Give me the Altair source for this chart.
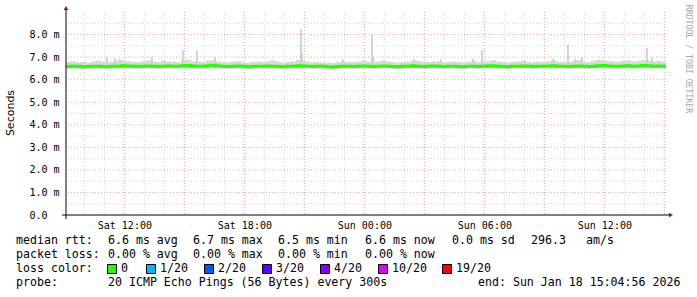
import altair as alt
import pandas as pd

# ---------------- data ----------------
START_H = 9 + 4 / 60 + 56 / 3600      # Sat 09:04:56, hours since Sat 00:00
END_H = START_H + 30                  # Sun 15:04:56
STEP_H = 0.25                         # one sample every 15 minutes

median_ms = [
    6.58, 6.60, 6.59, 6.57, 6.58, 6.60, 6.59, 6.58, 6.57, 6.59,
    6.60, 6.62, 6.61, 6.59, 6.58, 6.60, 6.61, 6.59, 6.58, 6.60,
    6.61, 6.60, 6.59, 6.62, 6.63, 6.61, 6.60, 6.59, 6.62, 6.64,
    6.61, 6.59, 6.58, 6.60, 6.61, 6.59, 6.57, 6.58, 6.60, 6.59,
    6.61, 6.60, 6.58, 6.57, 6.59, 6.60, 6.62, 6.61, 6.59, 6.58,
    6.60, 6.59, 6.57, 6.56, 6.58, 6.60, 6.59, 6.58, 6.60, 6.61,
    6.59, 6.58, 6.60, 6.61, 6.59, 6.58, 6.57, 6.59, 6.60, 6.62,
    6.60, 6.58, 6.59, 6.61, 6.60, 6.58, 6.59, 6.60, 6.58, 6.57,
    6.59, 6.60, 6.58, 6.59, 6.61, 6.62, 6.60, 6.58, 6.57, 6.59,
    6.60, 6.61, 6.59, 6.58, 6.60, 6.59, 6.61, 6.62, 6.60, 6.59,
    6.58, 6.60, 6.61, 6.59, 6.58, 6.60, 6.62, 6.63, 6.61, 6.60,
    6.59, 6.61, 6.62, 6.60, 6.61, 6.63, 6.62, 6.60, 6.61, 6.60,
]
smoke_lo_ms = [
    6.49, 6.50, 6.48, 6.47, 6.49, 6.50, 6.49, 6.48, 6.47, 6.49,
    6.50, 6.51, 6.50, 6.49, 6.48, 6.50, 6.51, 6.49, 6.48, 6.50,
    6.51, 6.50, 6.49, 6.51, 6.52, 6.51, 6.50, 6.49, 6.51, 6.52,
    6.50, 6.49, 6.48, 6.50, 6.51, 6.49, 6.47, 6.48, 6.50, 6.49,
    6.51, 6.50, 6.48, 6.47, 6.49, 6.50, 6.52, 6.51, 6.49, 6.48,
    6.50, 6.49, 6.47, 6.46, 6.48, 6.50, 6.49, 6.48, 6.50, 6.51,
    6.49, 6.48, 6.50, 6.51, 6.49, 6.48, 6.47, 6.49, 6.50, 6.52,
    6.50, 6.48, 6.49, 6.51, 6.50, 6.48, 6.49, 6.50, 6.48, 6.47,
    6.49, 6.50, 6.48, 6.49, 6.51, 6.52, 6.50, 6.48, 6.47, 6.49,
    6.50, 6.51, 6.49, 6.48, 6.50, 6.49, 6.51, 6.52, 6.50, 6.49,
    6.48, 6.50, 6.51, 6.49, 6.48, 6.50, 6.52, 6.53, 6.51, 6.50,
    6.49, 6.51, 6.52, 6.50, 6.51, 6.53, 6.52, 6.50, 6.51, 6.50,
]
smoke_hi_ms = [
    6.79, 6.82, 6.77, 6.78, 6.75, 6.80, 6.84, 6.79, 6.77, 6.81,
    6.84, 6.86, 6.82, 6.79, 6.77, 6.80, 6.85, 6.81, 6.78, 6.84,
    6.81, 6.79, 6.77, 6.86, 6.88, 6.82, 6.80, 6.78, 6.85, 6.86,
    6.81, 6.78, 6.76, 6.79, 6.82, 6.77, 6.75, 6.79, 6.81, 6.78,
    6.82, 6.85, 6.79, 6.76, 6.78, 6.80, 6.86, 6.83, 6.79, 6.77,
    6.79, 6.77, 6.75, 6.74, 6.78, 6.81, 6.79, 6.77, 6.80, 6.84,
    6.79, 6.77, 6.81, 6.85, 6.80, 6.77, 6.75, 6.78, 6.81, 6.86,
    6.83, 6.79, 6.78, 6.82, 6.80, 6.77, 6.79, 6.81, 6.78, 6.76,
    6.79, 6.84, 6.78, 6.79, 6.82, 6.86, 6.81, 6.78, 6.76, 6.79,
    6.81, 6.85, 6.79, 6.77, 6.81, 6.78, 6.82, 6.86, 6.81, 6.79,
    6.78, 6.82, 6.86, 6.79, 6.77, 6.84, 6.88, 6.86, 6.82, 6.80,
    6.79, 6.84, 6.86, 6.81, 6.84, 6.87, 6.85, 6.80, 6.84, 6.79,
]
spike_hours = [11.13, 11.53, 11.78, 13.38, 14.93, 15.63, 16.53, 20.83, 20.88,
               22.93, 24.38, 24.45, 26.48, 27.83, 29.43, 29.88, 33.43, 34.18,
               34.53, 34.88, 38.13, 38.38]
spike_top_ms = [7.00, 6.95, 6.93, 7.00, 7.30, 7.30, 6.98, 8.24, 7.20,
                6.90, 8.00, 7.00, 6.90, 6.90, 6.93, 7.30, 6.93, 7.55,
                6.92, 7.00, 7.40, 6.98]

y_ticks = [0, 1, 2, 3, 4, 5, 6, 7, 8]
x_label_hours = [12, 18, 24, 30, 36]
minor_grid_hours = list(range(10, 40))
major_grid_hours = [12, 15, 18, 21, 24, 27, 30, 33, 36, 39]
minor_grid_y = [0.5, 1.5, 2.5, 3.5, 4.5, 5.5, 6.5, 7.5, 8.5]
major_grid_y = [1, 2, 3, 4, 5, 6, 7, 8]

loss_colors = ["#26ff00", "#00b8ff", "#0059ff", "#5e00ff", "#7e00ff", "#dd00ff", "#ff0000"]
loss_labels = ["0", "1/20", "2/20", "3/20", "4/20", "10/20", "19/20"]

# ---------------- tables ----------------
n = len(median_ms)
hours = [START_H + i * STEP_H for i in range(n)] + [END_H]
series = pd.DataFrame({
    "h": hours,
    "med": median_ms + [median_ms[-1]],
    "lo": smoke_lo_ms + [smoke_lo_ms[-1]],
    "hi": smoke_hi_ms + [smoke_hi_ms[-1]],
})
spikes = pd.DataFrame({"h": spike_hours, "top": spike_top_ms})
dummy = pd.DataFrame({"a": [0]})

# ---------------- scales / axes ----------------
W, H = 600, 203
L, T = 66, 12
xscale = alt.Scale(domain=[START_H, END_H], nice=False, zero=False)
yscale = alt.Scale(domain=[0, 9], nice=False)
xaxis = alt.Axis(
    values=x_label_hours, title=None, grid=False, domain=False, ticks=False, tickSize=0,
    labelExpr="(datum.value < 24 ? 'Sat ' : 'Sun ') + (datum.value % 24 < 10 ? '0' : '') + (datum.value % 24) + ':00'",
    labelFont="DejaVu Sans Mono", labelFontSize=10, labelColor="black",
    labelBaseline="middle", labelPadding=10, labelFlush=False, labelOverlap=False,
)
yaxis = alt.Axis(
    values=y_ticks, title=None, grid=False, domain=False, ticks=False, tickSize=0,
    labelExpr="datum.value == 0 ? '0.0' : format(datum.value, '.1f') + ' m'",
    labelFont="DejaVu Sans Mono", labelFontSize=10, labelColor="black",
    labelAlign="left", labelBaseline="middle", labelPadding=37,
)

def X(field="h"):
    return alt.X(f"{field}:Q", scale=xscale, axis=xaxis)

def Y(field):
    return alt.Y(f"{field}:Q", scale=yscale, axis=yaxis)

layers = []

# grid
layers.append(alt.Chart(pd.DataFrame({"h": minor_grid_hours})).mark_rule(
    color="#d2d2d2", strokeWidth=1, strokeDash=[1, 2]).encode(x=X("h")))
layers.append(alt.Chart(pd.DataFrame({"v": minor_grid_y})).mark_rule(
    color="#d2d2d2", strokeWidth=1, strokeDash=[1, 2]).encode(y=Y("v")))
layers.append(alt.Chart(pd.DataFrame({"h": major_grid_hours})).mark_rule(
    color="#f0a8a8", strokeWidth=1, strokeDash=[1, 2]).encode(x=X("h")))
layers.append(alt.Chart(pd.DataFrame({"v": major_grid_y})).mark_rule(
    color="#f0a8a8", strokeWidth=1, strokeDash=[1, 2]).encode(y=Y("v")))

# smoke
layers.append(alt.Chart(series).mark_area(
    color="#d8d8d8", interpolate="step-after", opacity=1).encode(
    x=X("h"), y=Y("lo"), y2="hi"))
layers.append(alt.Chart(spikes).mark_rule(color="#d2d2d2", strokeWidth=2).encode(
    x=X("h"), y=Y("top"), y2=alt.datum(6.62)))

# median line
layers.append(alt.Chart(series).mark_line(
    color="#26ff00", strokeWidth=3, interpolate="step-after").encode(
    x=X("h"), y=Y("med")))

# axis lines and arrows
layers.append(alt.Chart(dummy).mark_rule(color="black", strokeWidth=1).encode(
    x=alt.value(-4), x2=alt.value(W + 4), y=alt.value(H)))
layers.append(alt.Chart(dummy).mark_rule(color="black", strokeWidth=1).encode(
    x=alt.value(0), y=alt.value(-3), y2=alt.value(H + 4)))
layers.append(alt.Chart(dummy).mark_point(
    shape="triangle-up", filled=True, size=22, color="#8b1a1a", opacity=1).encode(
    x=alt.value(0), y=alt.value(-4)))
layers.append(alt.Chart(dummy).mark_point(
    shape="triangle-right", filled=True, size=22, color="#8b1a1a", opacity=1).encode(
    x=alt.value(W + 5), y=alt.value(H)))

# texts
def txt(s, x, y, size=11.6, font="DejaVu Sans Mono", color="black", angle=0, align="left"):
    return alt.Chart(dummy).mark_text(
        text=s, align=align, baseline="middle", font=font, fontSize=size,
        color=color, angle=angle).encode(x=alt.value(x - L), y=alt.value(y - T))

layers.append(txt("Seconds", 11, 113, size=11, font="DejaVu Sans", angle=270, align="center"))
layers.append(txt("RRDTOOL / TOBI OETIKER", 688, 59, size=8.2, color="#a8a8a8", angle=90, align="center"))

row1 = [("median rtt:", 16), ("6.6 ms avg", 108), ("6.7 ms max", 193), ("6.5 ms min", 278),
        ("6.6 ms now", 365), ("0.0 ms sd", 452), ("296.3", 531), ("am/s", 586)]
row2 = [("packet loss:", 16), ("0.00 % avg", 108), ("0.00 % max", 193),
        ("0.00 % min", 278), ("0.00 % now", 365)]
row4 = [("probe:", 16), ("20 ICMP Echo Pings (56 Bytes) every 300s", 108),
        ("end: Sun Jan 18 15:04:56 2026", 478)]
for s, x in row1:
    layers.append(txt(s, x, 241))
for s, x in row2:
    layers.append(txt(s, x, 255))
layers.append(txt("loss color:", 16, 269))
for s, x in row4:
    layers.append(txt(s, x, 283))

square_x = [107, 146, 204, 262, 320, 378, 442]
for c, lab, sx in zip(loss_colors, loss_labels, square_x):
    layers.append(alt.Chart(dummy).mark_rect(color=c, stroke="black", strokeWidth=1).encode(
        x=alt.value(sx - L + 0.5), x2=alt.value(sx + 9 - L + 0.5),
        y=alt.value(264.5 - T), y2=alt.value(273.5 - T)))
    layers.append(txt(lab, sx + 14, 269))

chart = alt.layer(*layers).properties(
    width=W, height=H,
    padding={"left": L, "top": T, "right": 697 - L - W, "bottom": 297 - T - H},
    autosize=alt.AutoSizeParams(type="none"),
    background="white",
).configure_view(stroke=None)

chart.save("out.html", embed_options={"renderer": "svg", "actions": False})
